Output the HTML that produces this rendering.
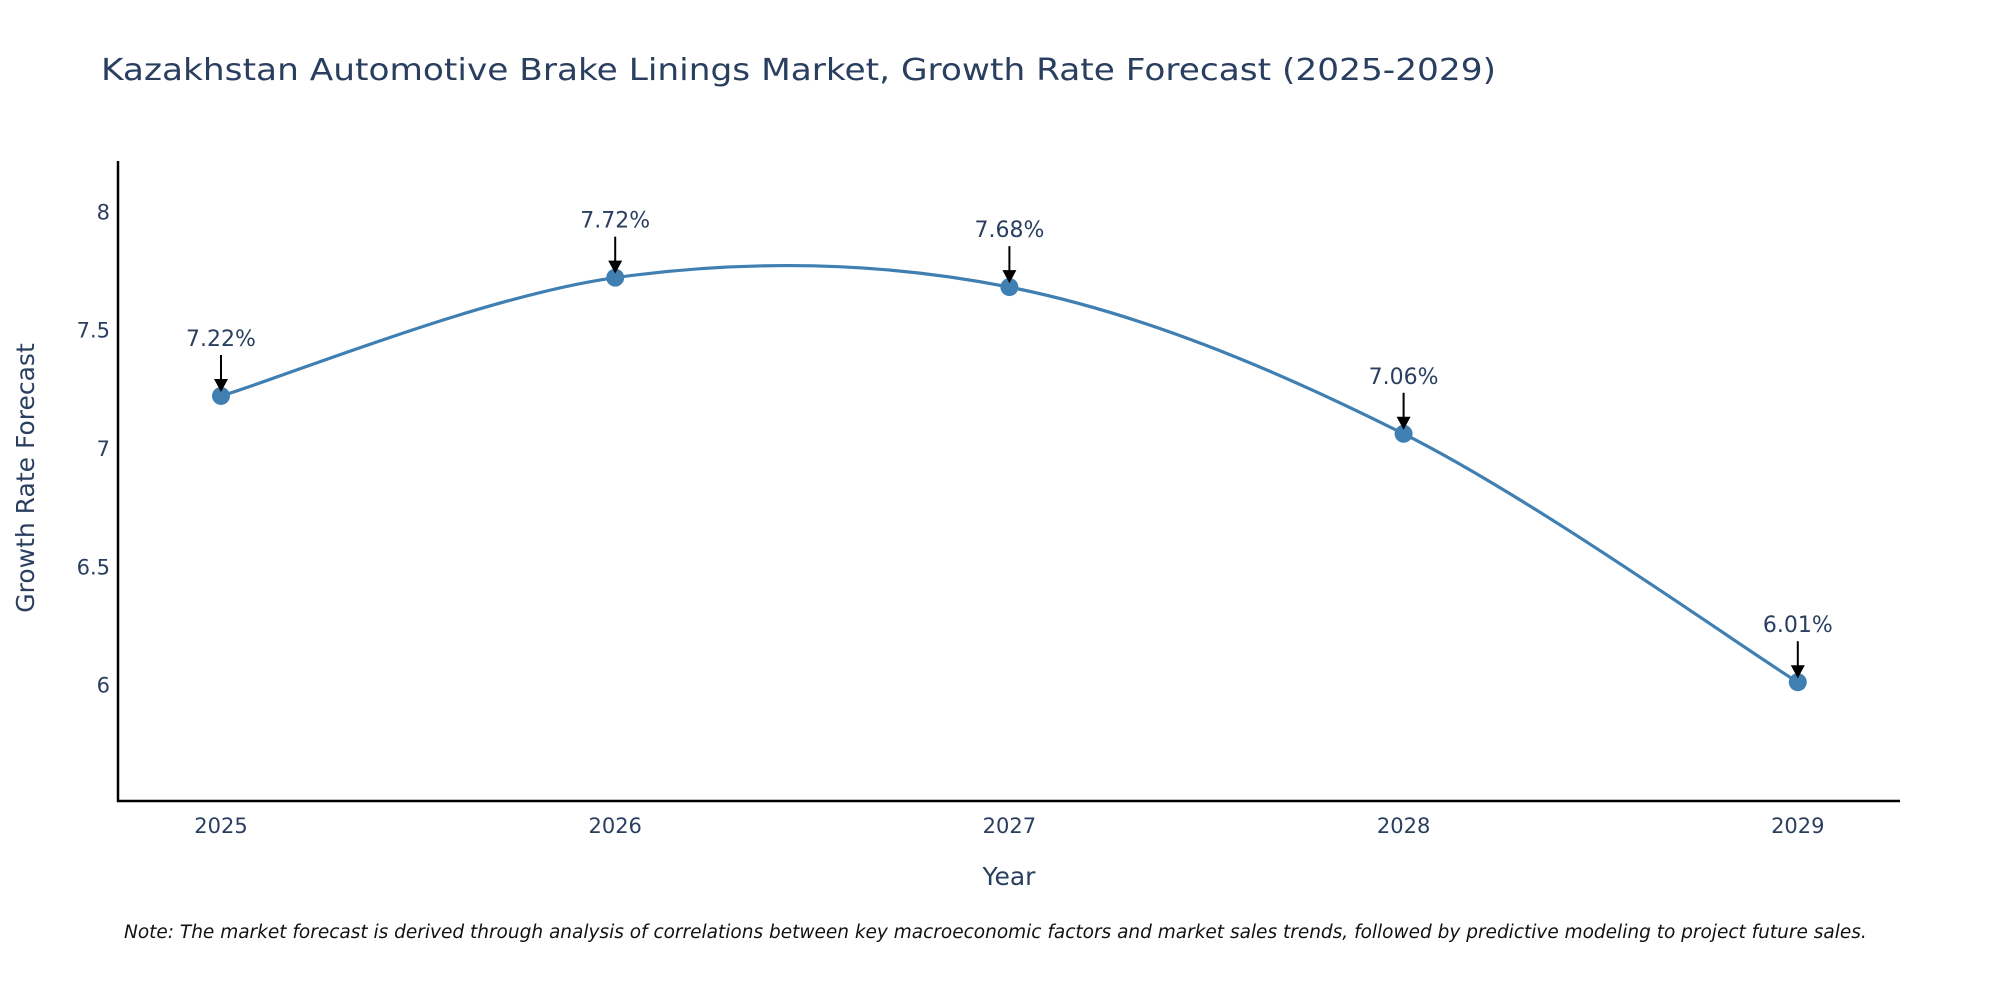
<!DOCTYPE html>
<html><head><meta charset="utf-8"><style>
body{margin:0;background:#fff;width:2000px;height:1000px;overflow:hidden}
svg text{font-family:"DejaVu Sans","Liberation Sans",sans-serif;fill:#2a3f5f}
</style></head><body>
<svg id="chart" width="2000" height="1000" xmlns="http://www.w3.org/2000/svg">
<text x="101" y="80" font-size="30" textLength="1395" lengthAdjust="spacingAndGlyphs">Kazakhstan Automotive Brake Linings Market, Growth Rate Forecast (2025-2029)</text>
<g id="grid"></g>
<path id="line" fill="none" stroke="#3f7fb2" stroke-width="3.2"/>
<g id="marks"></g>
<line x1="118" y1="161" x2="118" y2="802" stroke="#000" stroke-width="2.5"/>
<line x1="117" y1="801" x2="1900" y2="801" stroke="#000" stroke-width="2.5"/>
<text x="1009" y="885" font-size="25" text-anchor="middle">Year</text>
<text transform="translate(34,478) rotate(-90)" font-size="25" text-anchor="middle">Growth Rate Forecast</text>
<text x="124" y="938" font-size="18.5" font-style="italic" style="fill:#111">Note: The market forecast is derived through analysis of correlations between key macroeconomic factors and market sales trends, followed by predictive modeling to project future sales.</text>
</svg>
<script>
const years=[2025,2026,2027,2028,2029];
const values=[7.22,7.72,7.68,7.06,6.01];
const labels=["7.22%","7.72%","7.68%","7.06%","6.01%"];
const yTicks=[6,6.5,7,7.5,8];
const yTickLabels=["6","6.5","7","7.5","8"];
const NS="http://www.w3.org/2000/svg";
const xs=v=>221+(v-2025)*394.2;
const ys=v=>211.4+(8-v)*236.6;
const grid=document.getElementById('grid');
const marks=document.getElementById('marks');
function mk(t,a,p){const e=document.createElementNS(NS,t);for(const k in a)e.setAttribute(k,a[k]);p.appendChild(e);return e;}
yTicks.forEach((t,i)=>{
 const e=mk('text',{x:110,y:ys(t)+8,'font-size':21,'text-anchor':'end'},grid);
 
 
 e.textContent=yTickLabels[i];
});
years.forEach(y=>{
 const e=mk('text',{x:xs(y),y:833,'font-size':21,'text-anchor':'middle'},grid);
 
 
 e.textContent=String(y);
});
const P=years.map((y,i)=>[xs(y),ys(values[i])]);
let d='M'+P[0][0]+','+P[0][1];
const s=1/6;
for(let i=0;i<P.length-1;i++){
 const p0=P[Math.max(i-1,0)],p1=P[i],p2=P[i+1],p3=P[Math.min(i+2,P.length-1)];
 const c1=[p1[0]+(p2[0]-p0[0])*s,p1[1]+(p2[1]-p0[1])*s];
 const c2=[p2[0]-(p3[0]-p1[0])*s,p2[1]-(p3[1]-p1[1])*s];
 d+=' C'+c1+' '+c2+' '+p2;
}
document.getElementById('line').setAttribute('d',d);
years.forEach((y,i)=>{
 const cx=xs(y),cy=ys(values[i]);
 const c=mk('circle',{cx:cx,cy:cy,r:9,fill:'#3f7fb2'},marks);
 
 
 const l=mk('line',{x1:cx,y1:cy-41,x2:cx,y2:cy-16,stroke:'#000','stroke-width':2},marks);
 
 
 const h=mk('path',{d:`M${cx-7},${cy-17} L${cx+7},${cy-17} L${cx},${cy-4} Z`,fill:'#000'},marks);
 
 
 const t=mk('text',{x:cx,y:cy-50,'font-size':22,'text-anchor':'middle'},marks);
 
 
 t.textContent=labels[i];
});
</script>
</body></html>
